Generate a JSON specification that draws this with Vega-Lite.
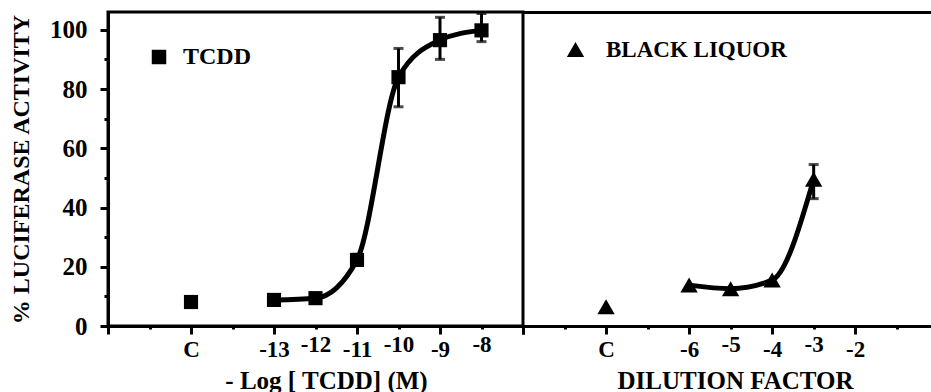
{
  "$schema": "https://vega.github.io/schema/vega-lite/v6.json",
  "padding": {"left": 8, "top": 10, "right": 0, "bottom": 0},
  "background": "white",
  "spacing": 0,
  "bounds": "flush",
  "config": {
    "font": "Liberation Serif",
    "view": {"stroke": "black", "strokeWidth": 3},
    "axis": {
      "domainColor": "black", "domainWidth": 3, "tickColor": "black", "tickWidth": 3,
      "labelColor": "black", "labelFont": "Liberation Serif", "labelFontWeight": "bold",
      "titleFont": "Liberation Serif", "titleFontWeight": "bold", "titleColor": "black",
      "grid": false, "labelOverlap": false, "labelBound": false, "labelFlush": false
    },
    "legend": {
      "orient": "none", "title": null, "labelFont": "Liberation Serif", "labelFontWeight": "bold",
      "labelFontSize": 24, "labelColor": "black", "padding": 0, "labelLimit": 0,
      "symbolFillColor": "black", "symbolStrokeWidth": 0, "symbolOpacity": 1
    }
  },
  "datasets": {
    "tcdd": [
      {"dose": -15, "pct": 8.1, "group": "TCDD", "curve": false, "lo": null, "hi": null},
      {"dose": -13, "pct": 8.8, "group": "TCDD", "curve": true, "lo": null, "hi": null},
      {"dose": -12, "pct": 9.4, "group": "TCDD", "curve": true, "lo": null, "hi": null},
      {"dose": -11, "pct": 22.3, "group": "TCDD", "curve": true, "lo": 20.8, "hi": 24.2},
      {"dose": -10, "pct": 84, "group": "TCDD", "curve": true, "lo": 74, "hi": 93.7},
      {"dose": -9, "pct": 96.5, "group": "TCDD", "curve": true, "lo": 90, "hi": 104.2},
      {"dose": -8, "pct": 99.8, "group": "TCDD", "curve": true, "lo": 96, "hi": 105.5}
    ],
    "liquor": [
      {"dilution": -8, "pct": 6.5, "group": "BLACK LIQUOR", "curve": false, "lo": null, "hi": null},
      {"dilution": -6, "pct": 13.8, "group": "BLACK LIQUOR", "curve": true, "lo": null, "hi": null},
      {"dilution": -5, "pct": 12.6, "group": "BLACK LIQUOR", "curve": true, "lo": null, "hi": null},
      {"dilution": -4, "pct": 15.5, "group": "BLACK LIQUOR", "curve": true, "lo": null, "hi": null},
      {"dilution": -3, "pct": 49.5, "group": "BLACK LIQUOR", "curve": true, "lo": 43, "hi": 54.5}
    ]
  },
  "hconcat": [
    {
      "width": 415,
      "height": 314,
      "data": {"name": "tcdd"},
      "encoding": {
        "x": {
          "field": "dose", "type": "quantitative",
          "scale": {"domain": [-17, -7], "nice": false, "zero": false},
          "axis": {
            "title": "- Log [ TCDD] (M)", "titleFontSize": 25, "titlePadding": 7, "titleX": 218,
            "values": [-17, -16, -15, -14, -13, -12, -11, -10, -9, -8, -7],
            "labelExpr": "datum.value == -15 ? 'C' : (datum.value >= -13 && datum.value <= -8 ? '' + datum.value : '')",
            "labelFontSize": 23, "labelPadding": 4,
            "tickSize": {"condition": {"test": "abs(datum.value) % 2 == 1", "value": 8}, "value": 3}
          }
        }
      },
      "layer": [
        {
          "transform": [{"filter": "datum.curve"}],
          "mark": {"type": "line", "color": "black", "strokeWidth": 5, "interpolate": "monotone"},
          "encoding": {
            "y": {"field": "pct", "type": "quantitative", "scale": {"domain": [0, 106], "nice": false},
              "axis": {
                "title": "% LUCIFERASE ACTIVITY", "titleFontSize": 24, "titlePadding": 16,
                "values": [0, 10, 20, 30, 40, 50, 60, 70, 80, 90, 100],
                "labelExpr": "datum.value % 20 == 0 ? datum.label : ''",
                "labelFontSize": 25, "labelPadding": 13,
                "tickSize": {"condition": {"test": "datum.value % 20 == 0", "value": 8}, "value": 4}
              }
            }
          }
        },
        {
          "transform": [{"filter": "datum.hi != null"}],
          "mark": {"type": "errorbar", "ticks": true, "size": 10, "thickness": 3, "color": "black"},
          "encoding": {
            "y": {"field": "lo", "type": "quantitative",
              "axis": {
                "title": "% LUCIFERASE ACTIVITY", "titleFontSize": 24, "titlePadding": 16,
                "values": [0, 10, 20, 30, 40, 50, 60, 70, 80, 90, 100],
                "labelExpr": "datum.value % 20 == 0 ? datum.label : ''",
                "labelFontSize": 25, "labelPadding": 13,
                "tickSize": {"condition": {"test": "datum.value % 20 == 0", "value": 8}, "value": 4}
              }
            },
            "y2": {"field": "hi"}
          }
        },
        {
          "mark": {"type": "point", "filled": true, "opacity": 1, "color": "black", "strokeWidth": 0},
          "encoding": {
            "y": {"field": "pct", "type": "quantitative",
              "axis": {
                "title": "% LUCIFERASE ACTIVITY", "titleFontSize": 24, "titlePadding": 16,
                "values": [0, 10, 20, 30, 40, 50, 60, 70, 80, 90, 100],
                "labelExpr": "datum.value % 20 == 0 ? datum.label : ''",
                "labelFontSize": 25, "labelPadding": 13,
                "tickSize": {"condition": {"test": "datum.value % 20 == 0", "value": 8}, "value": 4}
              }
            },
            "shape": {
              "field": "group", "type": "nominal",
              "scale": {"domain": ["TCDD"], "range": ["square"]},
              "legend": {"legendX": 39, "legendY": 33, "symbolSize": 210, "labelOffset": 12}
            },
            "size": {"value": 200}
          }
        }
      ]
    },
    {
      "width": 409,
      "height": 314,
      "view": {"stroke": null},
      "data": {"name": "liquor"},
      "encoding": {
        "y": {"field": "pct", "type": "quantitative", "scale": {"domain": [0, 106], "nice": false}, "axis": null}
      },
      "resolve": {"axis": {"x": "independent"}},
      "layer": [
        {
          "transform": [{"filter": "datum.curve"}],
          "mark": {"type": "line", "color": "black", "strokeWidth": 5, "interpolate": "monotone"},
          "encoding": {
            "x": {"field": "dilution", "type": "quantitative", "scale": {"domain": [-10, -0.15], "nice": false, "zero": false},
                  "axis": {"orient": "top", "labels": false, "ticks": false, "title": null, "domain": true}}
          }
        },
        {
          "transform": [{"filter": "datum.hi != null"}],
          "mark": {"type": "errorbar", "ticks": true, "size": 10, "thickness": 3, "color": "black"},
          "encoding": {
            "x": {"field": "dilution", "type": "quantitative", "axis": null},
            "y": {"field": "lo", "type": "quantitative", "axis": null},
            "y2": {"field": "hi"}
          }
        },
        {
          "mark": {"type": "point", "filled": true, "opacity": 1, "color": "black", "strokeWidth": 0},
          "encoding": {
            "x": {
              "field": "dilution", "type": "quantitative",
              "axis": {
                "orient": "bottom",
                "title": "DILUTION FACTOR", "titleFontSize": 25, "titlePadding": 7, "titleX": 212,
                "values": [-10, -9, -8, -7, -6, -5, -4, -3, -2, -1],
                "labelExpr": "datum.value == -8 ? 'C' : (datum.value >= -6 && datum.value <= -2 ? '' + datum.value : '')",
                "labelFontSize": 23, "labelPadding": 4,
                "tickSize": {"condition": {"test": "abs(datum.value) % 2 == 0", "value": 8}, "value": 3}
              }
            },
            "shape": {
              "field": "group", "type": "nominal",
              "scale": {"domain": ["BLACK LIQUOR"], "range": ["triangle-up"]},
              "legend": {"legendX": 41, "legendY": 26, "symbolSize": 300, "labelOffset": 19, "labelFontSize": 23}
            },
            "size": {"value": 300}
          }
        }
      ]
    }
  ],
  "resolve": {"scale": {"shape": "independent", "x": "independent"}, "legend": {"shape": "independent"}}
}
